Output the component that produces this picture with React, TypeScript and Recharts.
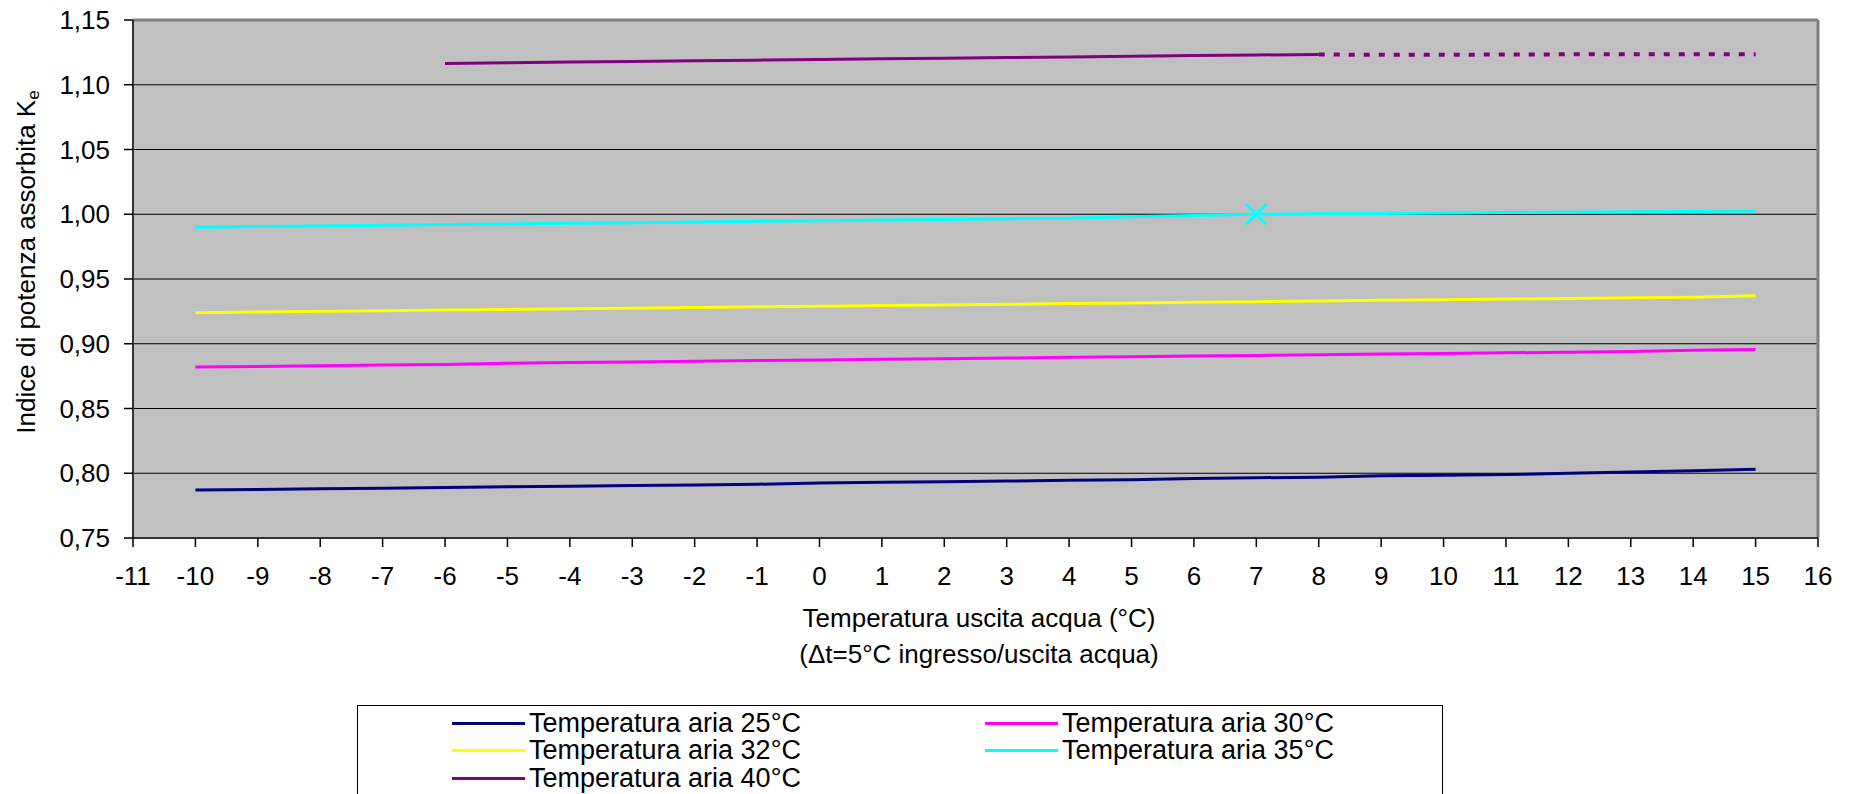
import React from 'react';
import {
  ComposedChart,
  Line,
  XAxis,
  YAxis,
  CartesianGrid,
  ReferenceLine,
} from 'recharts';

// Temperatura uscita acqua (°C)
const xValues = [-10, -9, -8, -7, -6, -5, -4, -3, -2, -1, 0, 1, 2, 3, 4, 5, 6, 7, 8, 9, 10, 11, 12, 13, 14, 15];

const aria25 = [0.787, 0.7875, 0.788, 0.7885, 0.789, 0.7895, 0.79, 0.7905, 0.791, 0.7915, 0.7925, 0.793, 0.7935, 0.794, 0.7945, 0.795, 0.796, 0.7965, 0.797, 0.798, 0.7985, 0.799, 0.8, 0.801, 0.802, 0.803];
const aria30 = [0.882, 0.8825, 0.883, 0.8835, 0.884, 0.885, 0.8855, 0.886, 0.8865, 0.887, 0.8875, 0.888, 0.8885, 0.889, 0.8895, 0.89, 0.8905, 0.891, 0.8915, 0.892, 0.8925, 0.893, 0.8935, 0.894, 0.895, 0.8955];
const aria32 = [0.924, 0.9245, 0.925, 0.9255, 0.926, 0.9265, 0.927, 0.9275, 0.928, 0.9285, 0.929, 0.9295, 0.93, 0.9305, 0.931, 0.9315, 0.932, 0.9325, 0.933, 0.9335, 0.934, 0.9345, 0.935, 0.9355, 0.936, 0.937];
const aria35 = [0.99, 0.9905, 0.991, 0.9915, 0.992, 0.9925, 0.993, 0.9935, 0.994, 0.9945, 0.995, 0.9955, 0.996, 0.9965, 0.997, 0.998, 0.999, 1.0, 1.0003, 1.0006, 1.001, 1.0013, 1.0016, 1.002, 1.0022, 1.0025];
// 40°C: linea continua da -6 a 8, tratteggiata da 8 a 15
const aria40 = [null, null, null, null, 1.1165, 1.117, 1.1175, 1.118, 1.1185, 1.119, 1.1195, 1.12, 1.1205, 1.121, 1.1215, 1.122, 1.1225, 1.123, 1.1233, null, null, null, null, null, null, null];
const aria40Ext = [null, null, null, null, null, null, null, null, null, null, null, null, null, null, null, null, null, null, 1.1233, 1.1232, 1.1232, 1.1233, 1.1235, 1.1236, 1.1236, 1.1236];

// punto nominale (croce)
const markerX = 7;
const markerY = 1.0;

const xTicks = [-11, -10, -9, -8, -7, -6, -5, -4, -3, -2, -1, 0, 1, 2, 3, 4, 5, 6, 7, 8, 9, 10, 11, 12, 13, 14, 15, 16];
const yTicks = [0.75, 0.8, 0.85, 0.9, 0.95, 1.0, 1.05, 1.1, 1.15];

const series = [
  { key: 'a25', name: 'Temperatura aria 25°C', color: '#000080', values: aria25 },
  { key: 'a30', name: 'Temperatura aria 30°C', color: '#FF00FF', values: aria30 },
  { key: 'a32', name: 'Temperatura aria 32°C', color: '#FFFF00', values: aria32 },
  { key: 'a35', name: 'Temperatura aria 35°C', color: '#00FFFF', values: aria35 },
  { key: 'a40', name: 'Temperatura aria 40°C', color: '#800080', values: aria40 },
];

const data = xValues.map((x, i) => {
  const row: any = { x };
  series.forEach((s) => {
    row[s.key] = s.values[i];
  });
  row.a40ext = aria40Ext[i];
  row.marker = x === markerX ? markerY : null;
  return row;
});

const FONT = '"Liberation Sans", Arial, sans-serif';
const tickStyle = { fontSize: 26, fill: '#000', fontFamily: FONT };

const CrossDot = (props: any) => {
  const { cx, cy, value } = props;
  if (value == null || cx == null || cy == null) return <g key={props.key} />;
  const r = 10;
  return (
    <g key={props.key} stroke="#00FFFF" strokeWidth={3}>
      <line x1={cx - r} y1={cy - r} x2={cx + r} y2={cy + r} />
      <line x1={cx - r} y1={cy + r} x2={cx + r} y2={cy - r} />
    </g>
  );
};

const YLabel = () => (
  <text
    x={28}
    y={262}
    transform="rotate(-90 28 262)"
    textAnchor="middle"
    dominantBaseline="middle"
    fontFamily={FONT}
    fontSize={26}
    fill="#000"
  >
    Indice di potenza assorbita K
    <tspan fontSize={17} dy={7}>e</tspan>
  </text>
);

const XLabel = () => (
  <g fontFamily={FONT} fontSize={26} fill="#000" textAnchor="middle">
    <text x={979} y={627}>Temperatura uscita acqua (°C)</text>
    <text x={979} y={663}>(Δt=5°C ingresso/uscita acqua)</text>
  </g>
);

const LegendBox = () => {
  const cols = [95, 628];
  const rowCenters = [17, 44, 72];
  return (
    <div
      style={{
        position: 'absolute',
        left: 357,
        top: 705,
        width: 1086,
        height: 110,
        border: '1px solid #000',
        boxSizing: 'border-box',
        background: '#fff',
      }}
    >
      {series.map((s, i) => (
        <div
          key={s.key}
          style={{
            position: 'absolute',
            left: cols[i % 2] - 1,
            top: rowCenters[Math.floor(i / 2)] - 14,
            height: 28,
            display: 'flex',
            alignItems: 'center',
            whiteSpace: 'nowrap',
          }}
        >
          <span style={{ display: 'inline-block', width: 73, height: 3, background: s.color }} />
          <span
            style={{
              marginLeft: 4,
              fontFamily: FONT,
              fontSize: 27,
              lineHeight: '28px',
              color: '#000',
            }}
          >
            {s.name}
          </span>
        </div>
      ))}
    </div>
  );
};

export default function App() {
  return (
    <div style={{ position: 'absolute', left: 0, top: 0, width: 1850, height: 794, overflow: 'hidden', background: '#fff' }}>
      <ComposedChart
        width={1850}
        height={794}
        data={data}
        margin={{ top: 20, right: 32, bottom: 0, left: 0 }}
      >
        <CartesianGrid vertical={false} stroke="#000" strokeWidth={1} fill="#C0C0C0" fillOpacity={1} />
        <XAxis
          type="number"
          dataKey="x"
          domain={[-11, 16]}
          ticks={xTicks}
          interval={0}
          allowDataOverflow
          height={256}
          tick={tickStyle}
          tickSize={9}
          tickMargin={20}
          axisLine={{ stroke: '#333', strokeWidth: 2 }}
          tickLine={{ stroke: '#000', strokeWidth: 1.5 }}
          label={<XLabel />}
        />
        <YAxis
          type="number"
          domain={[0.75, 1.15]}
          ticks={yTicks}
          interval={0}
          allowDataOverflow
          width={133}
          tick={tickStyle}
          tickSize={9}
          tickMargin={14}
          tickFormatter={(v: number) => v.toFixed(2).replace('.', ',')}
          axisLine={{ stroke: '#333', strokeWidth: 2 }}
          tickLine={{ stroke: '#000', strokeWidth: 1.5 }}
          label={<YLabel />}
        />
        <ReferenceLine y={1.15} stroke="#808080" strokeWidth={3} />
        <ReferenceLine x={16} stroke="#808080" strokeWidth={3} />
        {series.map((s) => (
          <Line
            key={s.key}
            type="linear"
            dataKey={s.key}
            stroke={s.color}
            strokeWidth={3}
            dot={false}
            activeDot={false}
            connectNulls={false}
            isAnimationActive={false}
          />
        ))}
        <Line
          type="linear"
          dataKey="a40ext"
          stroke="#800080"
          strokeWidth={4}
          strokeDasharray="6 9"
          dot={false}
          activeDot={false}
          isAnimationActive={false}
        />
        <Line
          type="linear"
          dataKey="marker"
          stroke="none"
          dot={<CrossDot />}
          activeDot={false}
          isAnimationActive={false}
        />
      </ComposedChart>
      <LegendBox />
    </div>
  );
}
